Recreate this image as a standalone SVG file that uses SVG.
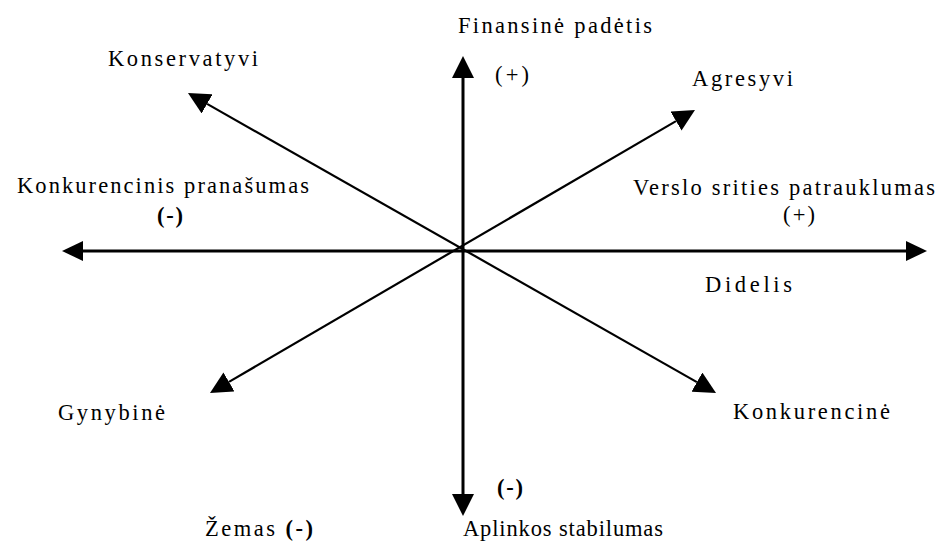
<svg xmlns="http://www.w3.org/2000/svg" width="941" height="554" viewBox="0 0 941 554">
<style>
text{font-family:"Liberation Serif","Times New Roman",serif;font-size:22.5px;fill:#000}
.b{font-weight:bold}
.ax{stroke:#000;stroke-width:3;fill:none}
.dg{stroke:#000;stroke-width:2.2;fill:none}
</style>
<defs>
<marker id="ah" viewBox="0 -11 22 22" refX="0" refY="0" markerWidth="22" markerHeight="22" markerUnits="userSpaceOnUse" orient="auto-start-reverse">
<path d="M0,-11 L22,0 L0,11 Z" fill="#000"/>
</marker>
<marker id="ahh" viewBox="0 -10 21 20" refX="0" refY="0" markerWidth="21" markerHeight="20" markerUnits="userSpaceOnUse" orient="auto-start-reverse">
<path d="M0,-10 L21,0 L0,10 Z" fill="#000"/>
</marker>
</defs>
<g id="connectors">
<line class="ax" x1="463" y1="78" x2="463" y2="494" marker-start="url(#ah)" marker-end="url(#ah)"/>
<line class="ax" x1="83" y1="251" x2="906" y2="251" marker-start="url(#ahh)" marker-end="url(#ahh)"/>
<line class="dg" x1="207.1" y1="103.9" x2="696.9" y2="382.1" marker-start="url(#ah)" marker-end="url(#ah)"/>
<line class="dg" x1="229" y1="381.9" x2="676" y2="121.1" marker-start="url(#ah)" marker-end="url(#ah)"/>
</g>
<g id="finansine">
<text x="458" y="33" textLength="194" lengthAdjust="spacing">Finansinė padėtis</text>
<text x="495" y="82" textLength="34" lengthAdjust="spacing">(+)</text>
</g>
<g id="aplinkos">
<text x="497" y="495" class="b" textLength="26" lengthAdjust="spacing">(-)</text>
<text x="463" y="536" textLength="200" lengthAdjust="spacing">Aplinkos stabilumas</text>
</g>
<g id="zemas">
<text x="205" y="536" textLength="108" lengthAdjust="spacing">Žemas <tspan class="b">(-)</tspan></text>
</g>
<g id="konservatyvi">
<text x="108" y="66" textLength="150" lengthAdjust="spacing">Konservatyvi</text>
</g>
<g id="agresyvi">
<text x="692" y="86" textLength="101" lengthAdjust="spacing">Agresyvi</text>
</g>
<g id="konkurencinis">
<text x="17" y="193" textLength="292" lengthAdjust="spacing">Konkurencinis pranašumas</text>
<text x="157" y="223" class="b" textLength="26" lengthAdjust="spacing">(-)</text>
</g>
<g id="verslo">
<text x="633" y="195" textLength="302" lengthAdjust="spacing">Verslo srities patrauklumas</text>
<text x="783" y="222" textLength="32" lengthAdjust="spacing">(+)</text>
</g>
<g id="didelis">
<text x="705" y="292" textLength="87" lengthAdjust="spacing">Didelis</text>
</g>
<g id="gynybine">
<text x="58" y="420" textLength="107" lengthAdjust="spacing">Gynybinė</text>
</g>
<g id="konkurencine">
<text x="733" y="419" textLength="157" lengthAdjust="spacing">Konkurencinė</text>
</g>
</svg>
